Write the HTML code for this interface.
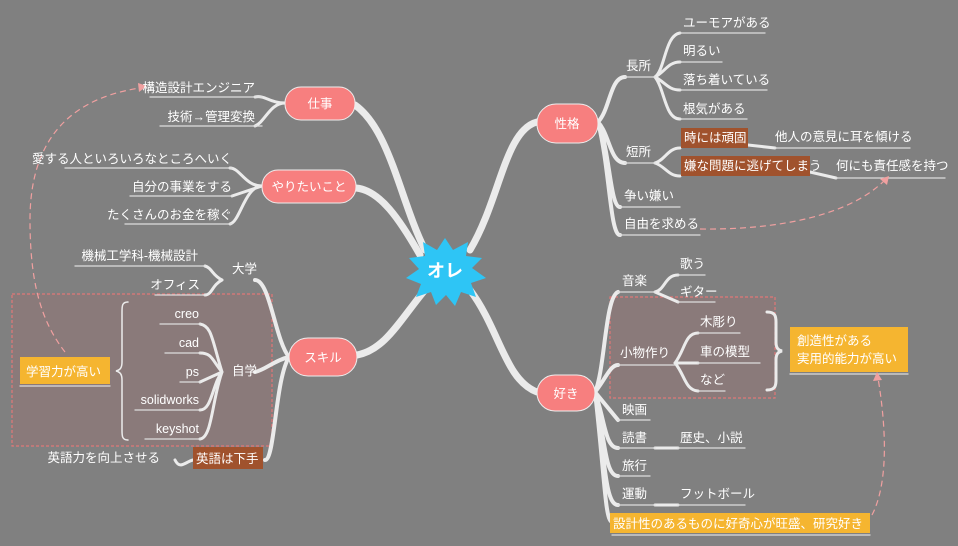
<!DOCTYPE html>
<html><head><meta charset="utf-8"><style>
html,body{margin:0;padding:0;background:#808080;}
svg{display:block;font-family:"Liberation Sans","Noto Sans CJK JP",sans-serif;}
text{fill:#fff;font-size:12.5px;}
</style></head><body>
<svg width="958" height="546" viewBox="0 0 958 546">
<rect width="958" height="546" fill="#808080"/>
<rect x="12" y="294" width="260" height="152" fill="#8a7a7a" stroke="#e07878" stroke-width="1.2" stroke-dasharray="3 2"/>
<rect x="610" y="297" width="165" height="101" fill="#8a7a7a" stroke="#e07878" stroke-width="1.2" stroke-dasharray="3 2"/>
<g fill="none" stroke="#ebebeb" stroke-linecap="round">
<path d="M425 250 C400 200 390 130 355 105" stroke-width="7"/>
<path d="M420 255 C400 220 380 190 356 188" stroke-width="7"/>
<path d="M425 290 C400 320 385 350 357 355" stroke-width="7"/>
<path d="M470 250 C500 200 505 130 537 122" stroke-width="7"/>
<path d="M470 290 C500 330 505 380 537 392" stroke-width="7"/>
<path d="M285 103 C270 103 265 95 255 97 M285 103 C270 103 265 122 255 126" stroke-width="3"/>
<path d="M262 186 C245 186 240 168 230 168 M262 186 L232 196 M262 186 C245 186 240 222 230 224" stroke-width="3"/>
<path d="M289 357 C275 340 270 280 255 280 M289 357 C275 360 265 370 255 372 M289 357 C275 380 275 460 265 460" stroke-width="4"/>
<path d="M222 280 C212 275 212 268 205 266 M222 280 C212 285 212 295 205 295" stroke-width="3"/>
<path d="M222 372 C212 340 212 326 200 324 M222 372 C212 360 212 353 200 353 M222 372 L200 382 M222 372 C212 385 212 410 200 410 M222 372 C212 400 212 438 200 439" stroke-width="3"/>
<path d="M193 460 C185 462 180 470 175 460" stroke-width="3"/>
<path d="M598 122 C610 110 610 77 625 77 M598 122 C610 135 610 163 625 163 M598 122 C610 150 610 207 620 207 M598 122 C610 170 610 235 620 235" stroke-width="4"/>
<path d="M655 77 C665 70 665 35 680 33 M655 77 C665 72 668 62 680 62 M655 77 C665 82 668 90 680 90 M655 77 C665 90 665 119 680 119" stroke-width="3"/>
<path d="M655 163 C665 160 668 148 680 148 M655 163 C665 166 668 176 680 176" stroke-width="3"/>
<path d="M748 145 L775 148 M810 172 L836 178" stroke-width="3"/>
<path d="M595 392 C605 370 605 297 618 292 M595 392 C605 380 610 365 618 365 M595 392 L618 420 M595 392 C605 420 605 448 618 448 M595 392 C605 440 605 476 618 476 M595 392 C605 460 605 505 618 505 M595 392 C605 480 605 520 612 522" stroke-width="4"/>
<path d="M655 292 C665 290 665 275 678 275 M655 292 L678 302" stroke-width="3"/>
<path d="M675 363 C685 350 685 333 698 333 M675 363 L698 363 M675 363 C685 375 685 390 698 391" stroke-width="3"/>
<path d="M655 448 L678 448 M655 505 L678 505" stroke-width="3"/>
<g stroke-width="1.3" stroke="#ddd">
<path d="M150 97H262M160 126H262M65 168H232M130 196H232M125 224H232"/>
<path d="M75 266H205M155 295H205M160 324H200M165 353H200M180 382H200M135 410H200M145 439H200"/>
<path d="M625 77H655M625 163H655M680 33H765M680 62H722M680 90H767M680 119H747M775 148H910M836 178H945M620 207H680M620 235H700"/>
<path d="M618 292H655M678 275H705M678 302H715M618 365H675M698 333H740M698 363H760M698 391H725M618 420H650M618 448H655M678 448H745M618 476H650M618 505H655M678 505H745M612 535H870"/>
<path d="M20 386H110M790 374H908"/>
</g>
<path d="M128 302 C122 302 122 306 122 312 L122 362 C122 368 120 370 116 371 C120 372 122 374 122 380 L122 430 C122 436 122 440 128 440" stroke-width="1.5"/>
<path d="M767 312 C775 312 776 316 776 322 L776 342 C776 348 778 350 782 351 C778 352 776 354 776 360 L776 380 C776 386 775 390 767 390" stroke-width="3"/>
</g>
<g fill="none" stroke="#f0a0a0" stroke-width="1.2" stroke-dasharray="6 4">
<path d="M65 352 C40 320 30 280 30 220 C30 150 60 100 140 88"/>
<path d="M700 229 C780 230 850 215 885 180"/>
<path d="M872 515 C890 480 885 420 878 378"/>
</g>
<g fill="#f0a0a0"><path d="M147 86 L138 83 L139 92Z"/><path d="M889 176 L880 179 L887 185Z"/><path d="M877 372 L873 381 L882 380Z"/></g>
<polygon fill="#2ec5f5" points="445,238 453,250 468,242 466,256 482,258 472,268 486,278 471,283 476,297 461,292 455,306 446,295 436,305 431,292 416,297 421,284 406,278 419,269 409,258 425,256 423,242 437,250" />
<text x="445" y="277" text-anchor="middle" style="font-size:18px;font-weight:bold">オレ</text>
<g fill="#f77f7f" stroke="#eee" stroke-width="1">
<rect x="285" y="87" width="70" height="33" rx="16"/>
<rect x="262" y="170" width="94" height="33" rx="16"/>
<rect x="289" y="338" width="68" height="38" rx="19"/>
<rect x="537" y="104" width="61" height="39" rx="19"/>
<rect x="537" y="375" width="58" height="36" rx="18"/>
</g>
<text x="320" y="108" text-anchor="middle">仕事</text>
<text x="309" y="191" text-anchor="middle">やりたいこと</text>
<text x="323" y="362" text-anchor="middle">スキル</text>
<text x="567" y="128" text-anchor="middle">性格</text>
<text x="566" y="398" text-anchor="middle">好き</text>
<rect x="20" y="357" width="90" height="27" fill="#f5b530"/>
<rect x="193" y="447" width="70" height="22" fill="#a0522d"/>
<rect x="681" y="128" width="67" height="20" fill="#a0522d"/>
<rect x="681" y="156" width="129" height="20" fill="#a0522d"/>
<rect x="790" y="327" width="118" height="45" fill="#f5b530"/>
<rect x="610" y="513" width="260" height="20" fill="#f5b530"/>
<g text-anchor="end">
<text x="255" y="92">構造設計エンジニア</text>
<text x="255" y="121">技術→管理変換</text>
<text x="232" y="163">愛する人といろいろなところへいく</text>
<text x="232" y="191">自分の事業をする</text>
<text x="232" y="219">たくさんのお金を稼ぐ</text>
<text x="198" y="260">機械工学科-機械設計</text>
<text x="200" y="289">オフィス</text>
<text x="199" y="318">creo</text>
<text x="199" y="347">cad</text>
<text x="199" y="376">ps</text>
<text x="199" y="404">solidworks</text>
<text x="199" y="433">keyshot</text>
<text x="160" y="462">英語力を向上させる</text>
</g>
<text x="232" y="273">大学</text>
<text x="232" y="375">自学</text>
<text x="26" y="376">学習力が高い</text>
<text x="196" y="463">英語は下手</text>
<text x="626" y="70">長所</text>
<text x="683" y="27">ユーモアがある</text>
<text x="683" y="55">明るい</text>
<text x="683" y="84">落ち着いている</text>
<text x="683" y="113">根気がある</text>
<text x="626" y="156">短所</text>
<text x="684" y="142">時には頑固</text>
<text x="775" y="141">他人の意見に耳を傾ける</text>
<text x="684" y="170">嫌な問題に逃げてしまう</text>
<text x="836" y="170">何にも責任感を持つ</text>
<text x="624" y="200">争い嫌い</text>
<text x="624" y="228">自由を求める</text>
<text x="622" y="285">音楽</text>
<text x="680" y="268">歌う</text>
<text x="680" y="296">ギター</text>
<text x="620" y="357">小物作り</text>
<text x="700" y="326">木彫り</text>
<text x="700" y="356">車の模型</text>
<text x="700" y="384">など</text>
<text x="797" y="345">創造性がある</text>
<text x="797" y="363">実用的能力が高い</text>
<text x="622" y="414">映画</text>
<text x="622" y="442">読書</text>
<text x="680" y="442">歴史、小説</text>
<text x="622" y="470">旅行</text>
<text x="622" y="498">運動</text>
<text x="680" y="498">フットボール</text>
<text x="613" y="528">設計性のあるものに好奇心が旺盛、研究好き</text>
</svg>
</body></html>
